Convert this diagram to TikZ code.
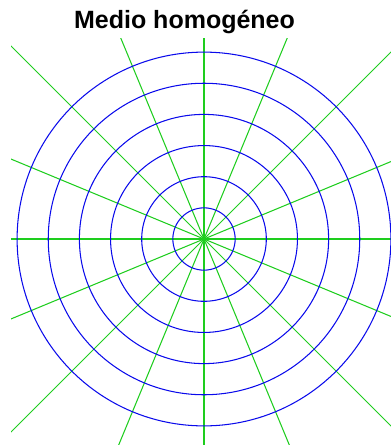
\documentclass[tikz,border=0pt]{standalone}
\usepackage{fontspec}
\setmainfont{Liberation Sans}
\definecolor{cblue}{RGB}{10,10,235}
\definecolor{cgreen}{RGB}{30,205,30}
\begin{document}
\begin{tikzpicture}[x=1pt,y=1pt,
  circ/.style={draw=cblue, line width=1.05pt},
  ray/.style={draw=cgreen, line width=1.05pt},
  titlestyle/.style={font=\bfseries\fontsize{25}{30}\selectfont, anchor=base, inner sep=0pt}]
\useasboundingbox (0,0) rectangle (391,-445);
\coordinate (O) at (204,-239);
\node[titlestyle] (title) at (184.5,-28) {Medio homogéneo};
\begin{scope}
  \clip (11,-38) rectangle (391,-445);
  \foreach \a in {0,22.5,...,337.5}
    \draw[ray] (O) -- ++(\a:420);
\end{scope}
\foreach \k in {1,...,6}
  \draw[circ] (O) circle[radius=31.15*\k];
\end{tikzpicture}
\end{document}
